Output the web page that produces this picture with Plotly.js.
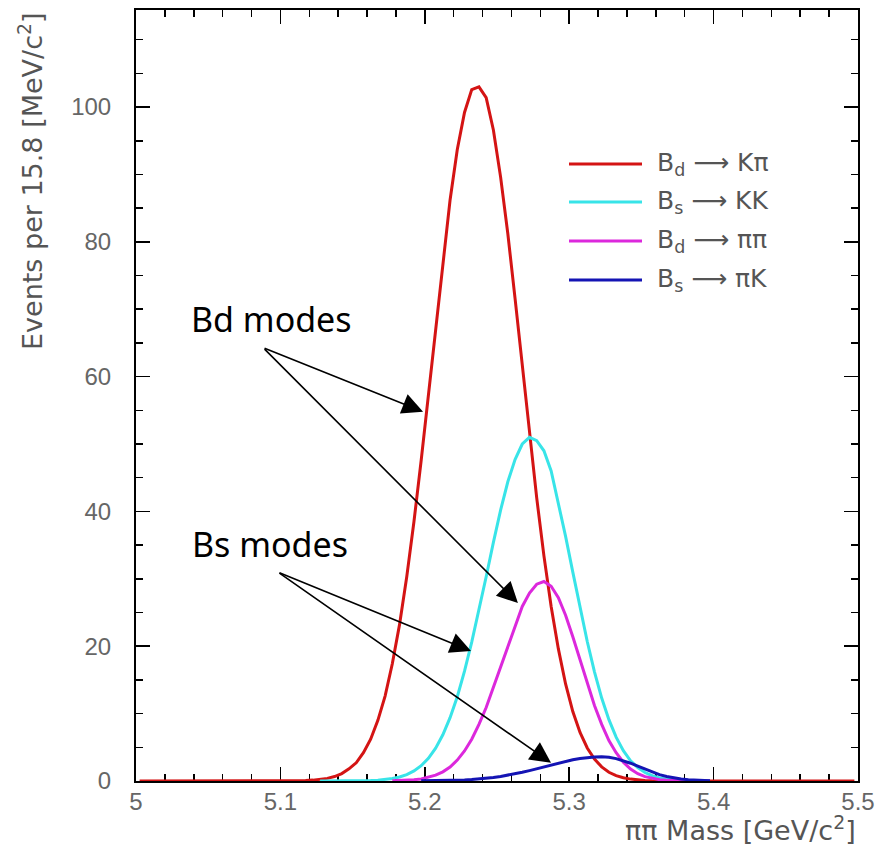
<!DOCTYPE html>
<html>
<head>
<meta charset="utf-8">
<script src="https://cdn.plot.ly/plotly-3.0.1.min.js"></script>
<style>
  html, body { margin: 0; padding: 0; background: #ffffff; }
  #chart { width: 880px; height: 846px; }
</style>
</head>
<body>
<div id="chart"></div>
<script>
// Reconstructed invariant-mass spectrum under the pi-pi hypothesis, 5 MeV bins.
const massLow = 5.0;      // GeV/c^2, lower edge of the first bin
const binWidth = 0.005;   // GeV/c^2

const seriesNames = ['B<sub>d</sub> ⟶ Kπ', 'B<sub>s</sub> ⟶ KK', 'B<sub>d</sub> ⟶ ππ', 'B<sub>s</sub> ⟶ πK'];

// Bd -> K pi, bins 0..99
const kpiFirstBin = 0;
const kpiCounts = [
  0, 0, 0, 0, 0, 0, 0, 0, 0, 0,
  0, 0, 0, 0, 0, 0, 0, 0, 0, 0,
  0.01, 0.02, 0.04, 0.07, 0.13, 0.23, 0.39, 0.66, 1.1, 1.8,
  2.7, 4.2, 6.2, 9.0, 12.6, 17.4, 23.2, 30.3, 38.5, 47.6,
  57.4, 67.5, 77.3, 86.2, 93.7, 99.2, 102.6, 103.0, 101.4, 96.6,
  89.6, 81.2, 71.6, 61.6, 51.5, 42.0, 33.4, 25.9, 19.6, 14.4,
  10.3, 7.2, 4.9, 3.25, 2.1, 1.3, 0.8, 0.48, 0.28, 0.16,
  0.08, 0.04, 0.02, 0, 0, 0, 0, 0, 0, 0,
  0, 0, 0, 0, 0, 0, 0, 0, 0, 0,
  0, 0, 0, 0, 0, 0, 0, 0, 0, 0
];

// Bs -> K K, bins 25..79
const kkFirstBin = 25;
const kkCounts = [
  0, 0, 0, 0.01, 0.01, 0.02, 0.04, 0.07, 0.12, 0.21,
  0.36, 0.59, 0.95, 1.49, 2.27, 3.37, 4.88, 6.86, 9.4, 12.5,
  16.3, 20.6, 25.3, 30.3, 35.4, 40.2, 44.4, 47.7, 50.0, 51.0,
  50.5, 49.0, 46.0, 41.2, 36.3, 31.0, 25.8, 20.7, 16.2, 12.3,
  9.1, 6.5, 4.5, 3.0, 2.0, 1.26, 0.78, 0.46, 0.27, 0.15,
  0.08, 0.04, 0.02, 0.01, 0
];

// Bd -> pi pi, bins 35..79
const pipiFirstBin = 35;
const pipiCounts = [
  0.04, 0.06, 0.10, 0.18, 0.31, 0.53, 0.86, 1.36, 2.08, 3.10,
  4.45, 6.2, 8.4, 10.9, 13.9, 17.0, 20.2, 23.2, 25.9, 27.9,
  29.2, 29.6, 28.9, 27.2, 24.6, 21.4, 18.0, 14.5, 11.2, 8.4,
  6.0, 4.2, 2.8, 1.77, 1.09, 0.65, 0.37, 0.20, 0.11, 0.06,
  0.03, 0.01, 0, 0, 0
];

// Bs -> pi K, bins 39..79
const pikFirstBin = 39;
const pikCounts = [
  0.02, 0.03, 0.04, 0.06, 0.08, 0.12, 0.16, 0.22, 0.30, 0.40,
  0.53, 0.68, 0.85, 1.06, 1.29, 1.54, 1.81, 2.10, 2.38, 2.66,
  2.92, 3.16, 3.35, 3.49, 3.57, 3.60, 3.52, 3.32, 3.01, 2.64,
  2.20, 1.75, 1.30, 0.95, 0.68, 0.47, 0.30, 0.19, 0.11, 0.06,
  0.03
];

const seriesColors = ['#d41414', '#38e4e8', '#dc28dc', '#1414b4'];

function binCentres(firstBin, counts) {
  return counts.map((_, j) => massLow + (firstBin + j + 0.5) * binWidth);
}

const histos = [
  [kpiFirstBin, kpiCounts],
  [kkFirstBin, kkCounts],
  [pipiFirstBin, pipiCounts],
  [pikFirstBin, pikCounts]
];

const traces = histos.map(([first, counts], k) => ({
  type: 'scatter',
  mode: 'lines',
  name: seriesNames[k],
  x: binCentres(first, counts),
  y: counts,
  line: { color: seriesColors[k], width: 3 },
  hoverinfo: 'x+y+name'
}));

// Plot-area geometry in page pixels, used to place the hand-drawn legend and titles.
const W = 880, H = 846;
const M = { l: 136, r: 22, t: 10, b: 65 };
const pw = W - M.l - M.r, ph = H - M.t - M.b;
const px = x => (x - M.l) / pw;
const py = y => (H - M.b - y) / ph;

const shapes = [];
const annotations = [];

const labelFont = { family: 'DejaVu Sans, Liberation Sans, sans-serif', size: 25, color: '#555555' };

// Legend: coloured line samples with labels
const legendRows = [164, 202, 241, 280];
legendRows.forEach((yy, k) => {
  shapes.push({
    type: 'line', xref: 'paper', yref: 'paper',
    x0: px(569), x1: px(642), y0: py(yy), y1: py(yy),
    line: { color: seriesColors[k], width: 3 }
  });
  annotations.push({
    xref: 'paper', yref: 'paper', x: px(655), y: py(yy),
    xanchor: 'left', yanchor: 'middle', showarrow: false,
    text: seriesNames[k],
    font: labelFont
  });
});

// Axis titles, aligned to the far end of each axis
const titleFont = { family: 'DejaVu Sans, Liberation Sans, sans-serif', size: 27, color: '#555555' };
annotations.push({
  xref: 'paper', yref: 'paper', x: 1, y: py(848),
  xanchor: 'right', yanchor: 'bottom', showarrow: false,
  text: 'ππ Mass [GeV/c<sup>2</sup>]',
  font: titleFont
});
annotations.push({
  xref: 'paper', yref: 'paper', x: px(30), y: py(10),
  xanchor: 'center', yanchor: 'top', showarrow: false, textangle: -90,
  text: 'Events per 15.8 [MeV/c<sup>2</sup>]',
  font: titleFont
});

// Hand-written callouts with arrows
const calloutFont = { family: 'Comic Sans MS, Noto Sans, sans-serif', size: 34, color: '#000000' };
annotations.push({ x: 5.0936, y: 68.6, xref: 'x', yref: 'y', text: 'Bd modes', showarrow: false, font: calloutFont });
annotations.push({ x: 5.0928, y: 35.2, xref: 'x', yref: 'y', text: 'Bs modes', showarrow: false, font: calloutFont });

const arrows = [
  { from: [5.0880, 64.3], to: [5.1988, 54.8] },
  { from: [5.0880, 64.3], to: [5.2645, 26.4] },
  { from: [5.0983, 31.0], to: [5.2320, 19.3] },
  { from: [5.0983, 31.0], to: [5.2874, 2.7] }
];
arrows.forEach(a => {
  annotations.push({
    x: a.to[0], y: a.to[1], xref: 'x', yref: 'y',
    ax: a.from[0], ay: a.from[1], axref: 'x', ayref: 'y',
    text: '', showarrow: true, arrowhead: 2, arrowsize: 2.6, arrowwidth: 1.6,
    arrowcolor: '#000000', standoff: 0, startstandoff: 0
  });
});

const tickFont = { family: 'Liberation Sans, Arial, sans-serif', size: 24, color: '#666666' };

const layout = {
  width: W, height: H,
  margin: M,
  paper_bgcolor: '#ffffff',
  plot_bgcolor: '#ffffff',
  showlegend: false,
  xaxis: {
    range: [5.0, 5.5], tick0: 5.0, dtick: 0.1,
    ticks: 'inside', ticklen: 14, tickwidth: 1.5, tickcolor: '#000000',
    minor: { dtick: 0.02, ticks: 'inside', ticklen: 7, tickwidth: 1.5, tickcolor: '#000000' },
    showline: true, linewidth: 2, linecolor: '#000000', mirror: 'ticks',
    showgrid: false, zeroline: false, layer: 'below traces',
    tickfont: tickFont, ticklabelstandoff: -2
  },
  yaxis: {
    range: [0, 114.4], tick0: 0, dtick: 20,
    ticks: 'inside', ticklen: 14, tickwidth: 1.5, tickcolor: '#000000',
    minor: { dtick: 5, ticks: 'inside', ticklen: 7, tickwidth: 1.5, tickcolor: '#000000' },
    showline: true, linewidth: 2, linecolor: '#000000', mirror: 'ticks',
    showgrid: false, zeroline: false, layer: 'below traces',
    tickfont: tickFont, ticklabelstandoff: 18
  },
  shapes: shapes,
  annotations: annotations
};

Plotly.newPlot('chart', traces, layout, { displayModeBar: false, staticPlot: true });
</script>
</body>
</html>
